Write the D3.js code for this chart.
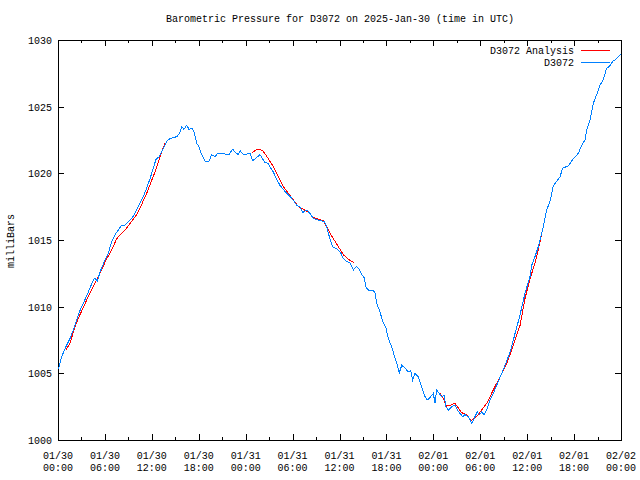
<!DOCTYPE html>
<html>
<head>
<meta charset="utf-8">
<script src="https://cdn.jsdelivr.net/npm/d3@7"></script>
<style>
  html, body { margin: 0; padding: 0; background: #fff; }
  svg { display: block; }
  text { font-family: "Liberation Mono", "DejaVu Sans Mono", monospace; font-size: 10px; fill: #000; }
</style>
</head>
<body>
<div id="chart"></div>
<script>
// ---- Data (hours since 2025-01-30 00:00 UTC, pressure in millibars) ----
const titleText = "Barometric Pressure for D3072 on 2025-Jan-30 (time in UTC)";
const yLabel = "milliBars";
const seriesNames = ["D3072 Analysis", "D3072"];
const yTicks = [1000, 1005, 1010, 1015, 1020, 1025, 1030];

const obsHours = [0.00,0.13,0.47,1.02,1.53,1.96,2.39,2.72,3.24,3.88,4.51,4.73,5.03,5.37,6.01,6.43,6.87,7.29,7.71,8.15,8.57,8.99,9.43,9.85,10.10,10.49,10.91,11.34,11.77,12.19,12.53,12.96,13.39,13.90,14.32,15.18,15.51,15.82,16.11,16.46,16.75,17.10,17.39,17.74,18.03,18.38,18.80,19.31,19.66,20.08,20.42,21.36,21.91,22.34,22.73,23.06,23.28,23.70,24.55,24.90,25.83,26.47,26.90,27.20,27.53,27.97,28.39,28.81,29.25,29.67,30.09,30.53,30.95,31.29,31.81,32.23,32.65,33.08,33.51,34.02,34.36,34.70,35.13,35.72,36.15,36.49,36.92,37.34,37.77,38.17,38.53,38.84,39.13,39.39,39.68,40.32,40.54,40.76,41.18,41.53,41.95,42.24,42.68,42.97,43.32,43.65,43.96,44.38,44.80,45.11,45.36,45.66,46.08,46.51,46.94,47.23,47.66,48.00,48.21,48.43,48.76,49.07,49.37,49.62,49.92,50.35,50.77,51.07,51.41,51.76,52.05,52.47,52.69,52.91,53.20,53.62,53.88,54.19,54.48,54.83,55.25,55.67,56.31,56.75,57.17,57.59,58.02,58.45,58.87,59.09,59.72,60.36,60.58,61.00,61.42,61.86,62.15,62.50,62.92,63.34,63.78,64.20,64.55,65.26,65.90,66.54,66.98,67.40,67.62,68.04,68.46,68.89,69.31,69.74,70.17,70.50,70.94,71.45,71.96];
const obsValues = [1005.3,1005.5,1006.25,1007.0,1007.6,1008.25,1009.0,1009.6,1010.25,1011.1,1012.0,1012.15,1011.9,1012.6,1013.5,1014.0,1014.9,1015.4,1015.75,1016.1,1016.1,1016.4,1016.6,1017.0,1017.3,1017.75,1018.25,1018.9,1019.6,1020.4,1021.05,1021.25,1021.8,1022.4,1022.6,1022.75,1022.95,1023.5,1023.3,1023.6,1023.3,1023.4,1023.1,1022.25,1022.0,1021.4,1020.9,1020.9,1021.4,1021.25,1021.5,1021.45,1021.45,1021.8,1021.55,1021.4,1021.7,1021.4,1021.5,1020.95,1021.4,1020.8,1020.75,1020.4,1020.1,1019.55,1019.1,1018.8,1018.5,1018.25,1018.0,1017.6,1017.5,1017.05,1017.25,1017.0,1016.6,1016.55,1016.45,1016.4,1016.0,1015.25,1014.5,1014.3,1014.05,1013.6,1013.4,1013.3,1012.75,1013.0,1012.8,1012.4,1012.2,1011.45,1011.25,1011.25,1011.0,1010.25,1009.6,1008.9,1008.4,1007.6,1007.0,1006.4,1005.75,1005.05,1005.6,1005.4,1005.1,1005.2,1004.5,1005.0,1004.75,1004.0,1003.25,1003.0,1003.25,1003.5,1002.75,1003.75,1003.5,1003.25,1003.35,1002.5,1002.25,1002.5,1002.6,1002.25,1002.0,1001.75,1001.9,1001.75,1001.5,1001.25,1001.6,1002.1,1001.9,1002.1,1001.9,1002.25,1003.0,1003.5,1004.4,1005.0,1005.6,1006.25,1007.0,1008.0,1008.9,1009.4,1011.0,1012.25,1013.1,1013.75,1014.5,1015.5,1016.25,1017.25,1017.9,1019.05,1019.4,1019.75,1020.4,1020.55,1021.1,1021.5,1022.1,1022.5,1023.25,1024.0,1025.25,1025.9,1026.6,1027.05,1027.9,1028.0,1028.4,1028.6,1028.95];

// Analysis: three separate segments
const anaSeg1Hours = [1.02,1.53,2.17,2.81,3.67,4.51,5.37,6.23,6.87,7.51,8.15,8.79,9.43,10.06,10.49,11.34,12.40,13.04,13.68];
const anaSeg1Values = [1006.75,1007.25,1008.5,1009.4,1010.5,1011.5,1012.5,1013.6,1014.25,1015.1,1015.5,1015.9,1016.4,1016.9,1017.4,1018.5,1020.1,1021.25,1022.25];
const anaSeg2Hours = [24.77,25.32,25.83,26.25,26.90,27.53,28.17,28.81,29.45,30.09,30.73,31.37,32.01,32.65,33.29,33.93,34.57,35.21,35.85,36.49,37.12,37.89];
const anaSeg2Values = [1021.55,1021.75,1021.8,1021.65,1021.1,1020.5,1019.75,1019.0,1018.5,1018.0,1017.5,1017.3,1017.1,1016.7,1016.55,1016.45,1015.75,1015.1,1014.5,1013.9,1013.55,1013.3];
const anaSeg3Hours = [48.85,49.27,49.69,50.13,50.77,51.19,51.63,52.27,52.82,53.54,54.19,54.83,55.46,56.10,56.75,57.38,58.02,58.66,59.09,59.72,60.36,61.00,61.42,61.86];
const anaSeg3Values = [1003.5,1003.1,1002.55,1002.6,1002.75,1002.4,1002.05,1001.9,1001.45,1001.75,1002.25,1002.75,1003.5,1004.25,1005.0,1005.75,1006.75,1007.9,1008.6,1010.6,1012.1,1013.25,1014.25,1015.5];

// ---- Layout ----
const W = 640, H = 480;
const mLeft = 58, mRight = 621, mTop = 40, mBottom = 440;
const tStart = Date.UTC(2025, 0, 30, 0, 0);
const tEnd = Date.UTC(2025, 1, 2, 0, 0);
const toDate = h => new Date(tStart + h * 3600000);

const svg = d3.select("#chart").append("svg").attr("width", W).attr("height", H);
svg.append("rect").attr("width", W).attr("height", H).attr("fill", "#fff");

const x = d3.scaleUtc().domain([new Date(tStart), new Date(tEnd)]).range([mLeft, mRight]);
const y = d3.scaleLinear().domain([1000, 1030]).range([mBottom, mTop]);

// Title
svg.append("text").attr("x", 340).attr("y", 22).attr("text-anchor", "middle").text(titleText);

// Y label
svg.append("text").attr("transform", "translate(14,241) rotate(-90)")
  .attr("text-anchor", "middle").text(yLabel);

// Axes
const majorTicks = d3.utcHour.every(6).range(new Date(tStart), new Date(tEnd + 1));
const minorTicks = d3.utcHour.every(3).range(new Date(tStart), new Date(tEnd + 1)).filter(d => d.getUTCHours() % 6 !== 0);

const g = svg.append("g").attr("shape-rendering", "crispEdges");
g.append("g").attr("transform", `translate(0,${mBottom})`)
  .call(d3.axisBottom(x).tickValues(majorTicks).tickSize(-6).tickFormat(""))
  .call(s => s.select(".domain").remove());
g.append("g").attr("transform", `translate(0,${mBottom})`)
  .call(d3.axisBottom(x).tickValues(minorTicks).tickSize(-3).tickFormat(""))
  .call(s => s.select(".domain").remove());
g.append("g").attr("transform", `translate(0,${mTop})`)
  .call(d3.axisTop(x).tickValues(majorTicks).tickSize(-6).tickFormat(""))
  .call(s => s.select(".domain").remove());
g.append("g").attr("transform", `translate(0,${mTop})`)
  .call(d3.axisTop(x).tickValues(minorTicks).tickSize(-3).tickFormat(""))
  .call(s => s.select(".domain").remove());
g.append("g").attr("transform", `translate(${mLeft},0)`)
  .call(d3.axisLeft(y).tickValues(yTicks).tickSize(-6).tickFormat(""))
  .call(s => s.select(".domain").remove());
g.append("g").attr("transform", `translate(${mRight},0)`)
  .call(d3.axisRight(y).tickValues(yTicks).tickSize(-6).tickFormat(""))
  .call(s => s.select(".domain").remove());
g.selectAll(".tick line").attr("stroke", "#000");

// Frame
g.append("rect").attr("x", mLeft + 0.5).attr("y", mTop + 0.5)
  .attr("width", mRight - mLeft).attr("height", mBottom - mTop)
  .attr("fill", "none").attr("stroke", "#000");

// Tick labels
const fmtD = d3.utcFormat("%m/%d"), fmtT = d3.utcFormat("%H:%M");
svg.append("g").selectAll("text").data(majorTicks).join("text")
  .attr("x", d => x(d)).attr("y", 459).attr("text-anchor", "middle").text(d => fmtD(d));
svg.append("g").selectAll("text").data(majorTicks).join("text")
  .attr("x", d => x(d)).attr("y", 471).attr("text-anchor", "middle").text(d => fmtT(d));
svg.append("g").selectAll("text").data(yTicks).join("text")
  .attr("x", 52).attr("y", d => y(d) + 4).attr("text-anchor", "end").text(d => d);

// Lines (non-antialiased like the reference)
const line = d3.line().x(d => x(toDate(d[0]))).y(d => y(d[1]));
const zip = (a, b) => a.map((v, i) => [v, b[i]]);
const plot = svg.append("g").attr("shape-rendering", "crispEdges");
[[anaSeg1Hours, anaSeg1Values], [anaSeg2Hours, anaSeg2Values], [anaSeg3Hours, anaSeg3Values]].forEach(([h, v]) => {
  plot.append("path").datum(zip(h, v)).attr("d", line)
    .attr("fill", "none").attr("stroke", "#ff0000").attr("stroke-width", 1);
});
plot.append("path").datum(zip(obsHours, obsValues)).attr("d", line)
  .attr("fill", "none").attr("stroke", "#0080ff").attr("stroke-width", 1);

// Legend
const legColors = ["#ff0000", "#0080ff"];
seriesNames.forEach((name, i) => {
  const ly = 50 + i * 12;
  svg.append("text").attr("x", 574).attr("y", ly + 4).attr("text-anchor", "end").text(name);
  svg.append("line").attr("x1", 581).attr("x2", 610).attr("y1", ly + 0.5).attr("y2", ly + 0.5)
    .attr("stroke", legColors[i]).attr("stroke-width", 1).attr("shape-rendering", "crispEdges");
});
</script>
</body>
</html>
